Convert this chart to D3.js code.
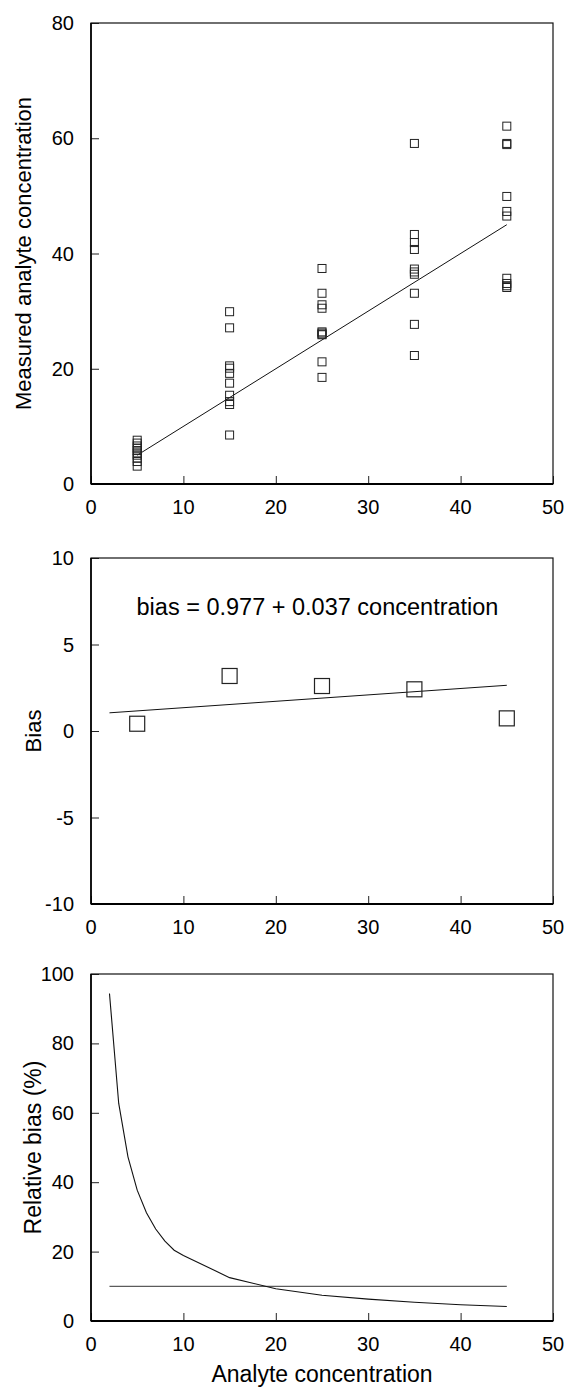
<!DOCTYPE html>
<html>
<head>
<meta charset="utf-8">
<script src="https://cdn.jsdelivr.net/npm/d3@7"></script>
<style>
  html, body { margin: 0; padding: 0; background: #fff; }
  svg { display: block; font-family: "Liberation Sans", Arial, sans-serif; }
</style>
</head>
<body>
<svg id="chart" width="569" height="1389"></svg>
<script>
// Nominal analyte levels and replicate measurements at each level
const levels = [5, 15, 25, 35, 45];
const measured05 = [7.6, 7.1, 6.6, 6.2, 5.8, 5.4, 5.0, 4.5, 3.9, 3.1];
const measured15 = [29.9, 27.1, 20.5, 20.1, 19.2, 17.5, 15.4, 14.3, 13.8, 8.5];
const measured25 = [37.4, 33.1, 31.1, 30.5, 26.4, 26.2, 26.0, 25.9, 21.2, 18.5];
const measured35 = [59.1, 43.3, 41.9, 40.7, 37.3, 36.8, 36.4, 33.1, 27.7, 22.3];
const measured45 = [62.1, 59.1, 58.9, 49.9, 47.3, 46.5, 35.7, 34.8, 34.4, 34.1];
const identityRange = [5, 45];

// Mean bias per level and the fitted bias line
const meanBias = [0.42, 3.18, 2.60, 2.41, 0.73];
const biasIntercept = 0.977;
const biasSlope = 0.037;
const fitRange = [2, 45];
const biasLabel = "bias = 0.977 + 0.037 concentration";

// Relative bias curve and the 10 % limit
const relConc = [2, 3, 4, 5, 6, 7, 8, 9, 10, 15, 20, 25, 30, 35, 40, 45];
const relBias = [94.4, 62.7, 47.3, 37.7, 31.2, 26.5, 23.0, 20.4, 18.9, 12.5, 9.3, 7.4, 6.3, 5.4, 4.7, 4.2];
const relLimit = 10;

// Tick values
const xTicks = [0, 10, 20, 30, 40, 50];
const yTicksMeasured = [0, 20, 40, 60, 80];
const yTicksBias = [-10, -5, 0, 5, 10];
const yTicksRel = [0, 20, 40, 60, 80, 100];

const svg = d3.select("#chart");
const left = 91, right = 553;
const tickFont = 20;

function panel(top, bottom, yDomain, yTicks, yTitle, yTitleX, yTitleSize) {
  const x = d3.scaleLinear().domain([0, 50]).range([left, right]);
  const y = d3.scaleLinear().domain(yDomain).range([bottom, top]);
  const g = svg.append("g");

  // inward tick marks
  const xAxis = d3.axisTop(x).tickValues(xTicks).tickSize(8).tickFormat("");
  g.append("g").attr("transform", `translate(0,${bottom})`).call(xAxis)
    .call(s => s.select(".domain").remove())
    .call(s => s.selectAll("line").attr("stroke", "#222").attr("stroke-width", 1));
  const yAxis = d3.axisRight(y).tickValues(yTicks).tickSize(8).tickFormat("");
  g.append("g").attr("transform", `translate(${left},0)`).call(yAxis)
    .call(s => s.select(".domain").remove())
    .call(s => s.selectAll("line").attr("stroke", "#222").attr("stroke-width", 1));

  // frame
  g.append("rect").attr("x", left).attr("y", top)
    .attr("width", right - left).attr("height", bottom - top)
    .attr("fill", "none").attr("stroke", "#111").attr("stroke-width", 1.2);
  g.append("line").attr("x1", left).attr("x2", right).attr("y1", bottom).attr("y2", bottom)
    .attr("stroke", "#000").attr("stroke-width", 2);
  g.append("line").attr("x1", left).attr("x2", left).attr("y1", top).attr("y2", bottom)
    .attr("stroke", "#000").attr("stroke-width", 1.6);

  // tick labels
  g.selectAll(".xl").data(xTicks).join("text")
    .attr("x", d => x(d)).attr("y", bottom + 30)
    .attr("text-anchor", "middle").attr("font-size", tickFont).text(d => d);
  g.selectAll(".yl").data(yTicks).join("text")
    .attr("x", left - 17).attr("y", d => y(d) + 7)
    .attr("text-anchor", "end").attr("font-size", tickFont).text(d => d);

  // y title
  g.append("text")
    .attr("transform", `translate(${yTitleX},${(top + bottom) / 2}) rotate(-90)`)
    .attr("text-anchor", "middle").attr("font-size", yTitleSize).text(yTitle);

  return { g, x, y };
}

// Panel 1: measured vs nominal
{
  const { g, x, y } = panel(23, 484, [0, 80], yTicksMeasured, "Measured analyte concentration", 31, 22);
  const groups = [measured05, measured15, measured25, measured35, measured45];
  const pts = [];
  groups.forEach((vals, i) => vals.forEach(v => pts.push([levels[i], v])));
  g.append("line")
    .attr("x1", x(identityRange[0])).attr("y1", y(identityRange[0]))
    .attr("x2", x(identityRange[1])).attr("y2", y(identityRange[1]))
    .attr("stroke", "#111").attr("stroke-width", 1);
  const s = 8;
  g.selectAll(".pt").data(pts).join("rect")
    .attr("x", d => x(d[0]) - s / 2).attr("y", d => y(d[1]) - s / 2)
    .attr("width", s).attr("height", s)
    .attr("fill", "none").attr("stroke", "#222").attr("stroke-width", 1);
}

// Panel 2: bias per level with fitted line
{
  const { g, x, y } = panel(558, 904, [-10, 10], yTicksBias, "Bias", 41, 22);
  const fitLine = d3.line().x(d => x(d)).y(d => y(biasIntercept + biasSlope * d));
  g.append("path").datum(fitRange).attr("d", fitLine)
    .attr("fill", "none").attr("stroke", "#111").attr("stroke-width", 1);
  const s = 15;
  g.selectAll(".pt").data(levels).join("rect")
    .attr("x", (d) => x(d) - s / 2).attr("y", (d, i) => y(meanBias[i]) - s / 2)
    .attr("width", s).attr("height", s)
    .attr("fill", "none").attr("stroke", "#222").attr("stroke-width", 1.2);
  g.append("text").attr("x", 317.5).attr("y", 615)
    .attr("text-anchor", "middle").attr("font-size", 23.5).text(biasLabel);
}

// Panel 3: relative bias curve
{
  const { g, x, y } = panel(974, 1321, [0, 100], yTicksRel, "Relative bias (%)", 41, 23);
  g.append("line")
    .attr("x1", x(relConc[0])).attr("x2", x(relConc[relConc.length - 1]))
    .attr("y1", y(relLimit)).attr("y2", y(relLimit))
    .attr("stroke", "#333").attr("stroke-width", 1);
  const curve = d3.line().x((d, i) => x(relConc[i])).y(d => y(d));
  g.append("path").datum(relBias).attr("d", curve)
    .attr("fill", "none").attr("stroke", "#111").attr("stroke-width", 1.1);
  g.append("text").attr("x", (left + right) / 2).attr("y", 1382)
    .attr("text-anchor", "middle").attr("font-size", 23).text("Analyte concentration");
}
</script>
</body>
</html>
